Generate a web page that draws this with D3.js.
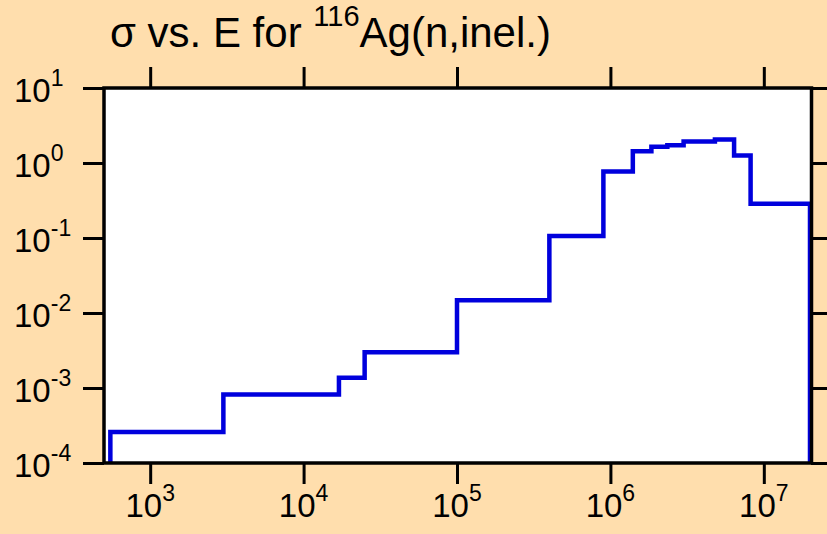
<!DOCTYPE html>
<html>
<head>
<meta charset="utf-8">
<script src="https://cdn.jsdelivr.net/npm/d3@7"></script>
<style>
  html, body { margin: 0; padding: 0; background: #FFDEAD; }
  svg { display: block; }
  text { font-family: "Liberation Sans", Arial, sans-serif; fill: #000; }
</style>
</head>
<body>
<svg id="chart" width="827" height="534"></svg>
<script>
// Group boundaries (eV) of the histogram and cross section (b) in each group
const binEdges = [550, 3000, 1.7e4, 2.5e4, 1e5, 4e5, 9e5, 1.4e6, 1.85e6, 2.35e6, 3e6, 4.8e6, 6.4e6, 8.2e6, 2e7];
const sigma    = [2.6e-4, 8.2e-4, 1.37e-3, 3.0e-3, 1.48e-2, 0.106, 0.77, 1.43, 1.65, 1.73, 1.94, 2.05, 1.26, 0.286];

const xTickExps = [3, 4, 5, 6, 7];
const yTickExps = [1, 0, -1, -2, -3, -4];

const titleMain = "σ vs. E for ";
const titleMass = "116";
const titleRest = "Ag(n,inel.)";

const W = 827, H = 534;
const plot = { left: 104, right: 810, top: 88, bottom: 463 };

const svg = d3.select("#chart");

const x = d3.scaleLog().domain([500, 2e7]).range([plot.left, plot.right]);
const y = d3.scaleLog().domain([1e-4, 10]).range([plot.bottom, plot.top]);

const xTicks = xTickExps.map(e => Math.pow(10, e));
const yTicks = yTickExps.map(e => Math.pow(10, e));

// plot background
svg.append("rect")
  .attr("x", plot.left).attr("y", plot.top)
  .attr("width", plot.right - plot.left + 1)
  .attr("height", plot.bottom - plot.top)
  .attr("fill", "#fff");

// outward ticks on all four sides
function styleAxis(g) {
  g.select(".domain").remove();
  g.selectAll(".tick line").attr("stroke", "#000").attr("stroke-width", 3);
}
svg.append("g").attr("transform", `translate(0,${plot.bottom})`)
  .call(d3.axisBottom(x).tickValues(xTicks).tickSize(21).tickFormat("")).call(styleAxis);
svg.append("g").attr("transform", `translate(0,${plot.top})`)
  .call(d3.axisTop(x).tickValues(xTicks).tickSize(21).tickFormat("")).call(styleAxis);
svg.append("g").attr("transform", `translate(${plot.left},0)`)
  .call(d3.axisLeft(y).tickValues(yTicks).tickSize(21).tickFormat("")).call(styleAxis);
svg.append("g").attr("transform", `translate(${plot.right + 1},0)`)
  .call(d3.axisRight(y).tickValues(yTicks).tickSize(20).tickFormat("")).call(styleAxis);

// step curve: rises from the lower bound at the first edge, falls back at the last
const pts = [[binEdges[0], 1e-4]];
sigma.forEach((s, i) => {
  pts.push([binEdges[i], s]);
  pts.push([binEdges[i + 1], s]);
});
pts.push([binEdges[binEdges.length - 1], 1e-4]);

svg.append("path")
  .datum(pts)
  .attr("fill", "none")
  .attr("stroke", "#0000dd")
  .attr("stroke-width", 4.5)
  .attr("stroke-linejoin", "miter")
  .attr("d", d3.line().x(d => x(d[0])).y(d => y(d[1])));

// frame
svg.append("rect")
  .attr("x", plot.left).attr("y", plot.top)
  .attr("width", plot.right - plot.left + 1.5)
  .attr("height", plot.bottom - plot.top)
  .attr("fill", "none")
  .attr("stroke", "#000")
  .attr("stroke-width", 3.5);

// y tick labels: 10^n
yTickExps.forEach(e => {
  const t = svg.append("text")
    .attr("x", 14).attr("y", y(Math.pow(10, e)) + 14)
    .attr("font-size", 33);
  t.append("tspan").text("10");
  t.append("tspan").attr("dy", -16).attr("font-size", 23).text(String(e));
});

// x tick labels: 10^n, centred under the tick
xTickExps.forEach(e => {
  const t = svg.append("text")
    .attr("x", x(Math.pow(10, e))).attr("y", 517)
    .attr("text-anchor", "middle")
    .attr("font-size", 33);
  t.append("tspan").text("10");
  t.append("tspan").attr("dy", -16).attr("font-size", 23).text(String(e));
});

// title
const title = svg.append("text").attr("x", 110).attr("y", 47).attr("font-size", 42);
title.append("tspan").text(titleMain);
title.append("tspan").attr("dy", -21).attr("font-size", 29).text(titleMass);
title.append("tspan").attr("dy", 21).text(titleRest);
</script>
</body>
</html>
